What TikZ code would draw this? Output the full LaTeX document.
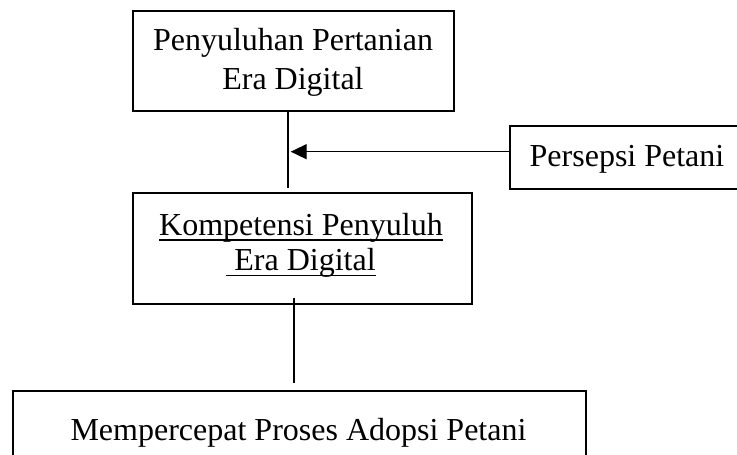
\documentclass[tikz,border=0pt]{standalone}
\usepackage{fontspec}
\setmainfont{Liberation Serif}
\usetikzlibrary{arrows.meta}

% underline set at a fixed depth below the baseline
\newcommand{\ulinetext}[1]{\leavevmode\setbox0=\hbox{#1}\rlap{\rule[-2.85pt]{\wd0}{0.7pt}}\box0}

\begin{document}
\begin{tikzpicture}[x=0.5pt, y=-0.5pt,
  box/.style={draw, line width=0.85pt, inner sep=0pt, minimum width=#1},
  label text/.style={font=\fontsize{16pt}{#1}\selectfont, align=center, inner sep=0pt, anchor=base},
  label text/.default=19.5pt,
  link/.style={line width=0.75pt},
  feed/.style={line width=0.7pt, -{Triangle[length=8pt, width=7.5pt]}}]
  \useasboundingbox (0,0) rectangle (737,454);

  % boxes
  \node[box=160.35pt, minimum height=50pt] (era) at (293.35,61) {};
  \node[box=117pt, minimum height=31.65pt] (pers) at (627,157.65) {};
  \node[box=169.5pt, minimum height=55.5pt] (komp) at (302.5,248.5) {};
  \node[box=286.5pt, minimum height=44.5pt] (adop) at (299.5,435.5) {};

  % texts (anchored at the baseline of their last line)
  \node[label text] (eraT) at (293,89.5) {Penyuluhan Pertanian\\Era Digital};
  \node[label text] (persT) at (627,166.5) {Persepsi Petani};
  \node[label text=17.75pt] (kompT) at (301,270.5) {\ulinetext{Kompetensi Penyuluh}\\\ulinetext{\ Era Digital}};
  \node[label text] (adopT) at (298.5,440) {Mempercepat Proses Adopsi Petani};

  % connectors
  \coordinate (eraEnd) at (288,188);
  \coordinate (tip) at (290.7,151.7);
  \coordinate (kompEnd) at (294,383);
  \draw[link] (era.south -| eraEnd) -- (eraEnd);
  \draw[feed] (pers.west |- tip) -- (tip);
  \draw[link] ([yshift=3.5pt]komp.south -| kompEnd) -- (kompEnd);
\end{tikzpicture}
\end{document}
